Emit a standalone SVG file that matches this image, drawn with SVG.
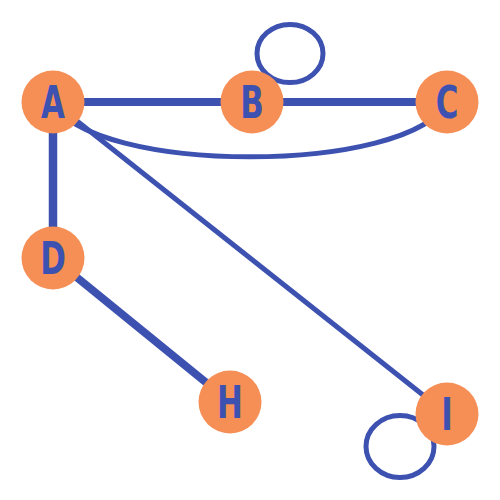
<svg xmlns="http://www.w3.org/2000/svg" width="500" height="500" viewBox="0 0 500 500">
<style>
.e{fill:none;stroke:#3d52b0;stroke-linecap:butt}
.n circle{fill:#f68f56}
.n text{fill:#3d52b0;font-family:"DejaVu Sans Condensed","DejaVu Sans",sans-serif;font-stretch:condensed;font-weight:bold;font-size:44px;text-anchor:middle}
</style>
<rect width="500" height="500" fill="#fff"/>
<g id="edges">
<path class="e" d="M53,102 C90,175 410,175 447,102" stroke-width="5"/>
<line class="e" x1="53" y1="102" x2="447" y2="414" stroke-width="5"/>
<line class="e" x1="53" y1="102" x2="252" y2="102" stroke-width="8"/>
<line class="e" x1="252" y1="102" x2="447" y2="102" stroke-width="8"/>
<line class="e" x1="53" y1="102" x2="53" y2="258" stroke-width="8.5"/>
<line class="e" x1="53" y1="258" x2="230" y2="402" stroke-width="8"/>
<ellipse class="e" cx="290" cy="53.5" rx="33" ry="29" stroke-width="5"/>
<ellipse class="e" cx="400" cy="446.5" rx="34" ry="31" stroke-width="5"/>
</g>
<g id="A" class="n"><circle cx="53" cy="102" r="31.5"/><text transform="translate(53,118) scale(0.78,1)">A</text></g>
<g id="B" class="n"><circle cx="252" cy="102" r="31.5"/><text transform="translate(252,118) scale(0.78,1)">B</text></g>
<g id="C" class="n"><circle cx="447" cy="102" r="31.5"/><text transform="translate(447,118) scale(0.78,1)">C</text></g>
<g id="D" class="n"><circle cx="53" cy="258" r="31.5"/><text transform="translate(53,274) scale(0.78,1)">D</text></g>
<g id="H" class="n"><circle cx="230" cy="402" r="31.5"/><text transform="translate(230,418) scale(0.78,1)">H</text></g>
<g id="I" class="n"><circle cx="447" cy="414" r="31.5"/><text transform="translate(447,430) scale(0.78,1)">I</text></g>
</svg>
